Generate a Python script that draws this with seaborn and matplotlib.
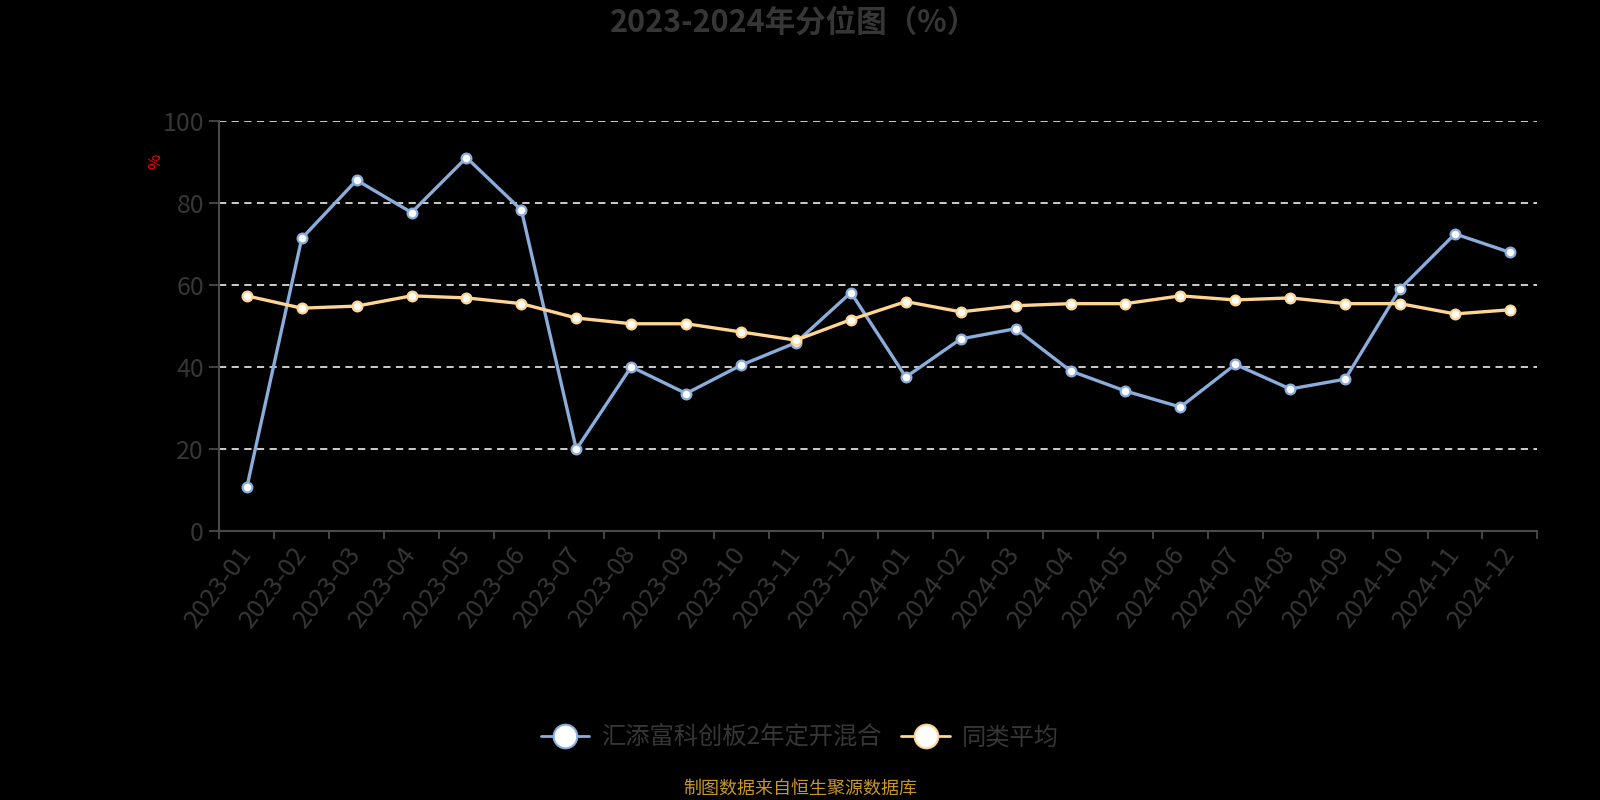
import seaborn as sns
import matplotlib.pyplot as plt
import pandas as pd
import numpy as np
from matplotlib.lines import Line2D

# data
months = ['2023-01', '2023-02', '2023-03', '2023-04', '2023-05', '2023-06',
          '2023-07', '2023-08', '2023-09', '2023-10', '2023-11', '2023-12',
          '2024-01', '2024-02', '2024-03', '2024-04', '2024-05', '2024-06',
          '2024-07', '2024-08', '2024-09', '2024-10', '2024-11', '2024-12']
fund_pct = [10.6, 71.3, 85.5, 77.6, 91.0, 78.2, 19.9, 40.0, 33.5, 40.4, 45.9, 58.1,
            37.5, 46.8, 49.3, 39.0, 34.1, 30.2, 40.6, 34.6, 37.0, 59.0, 72.4, 67.9]
peer_avg = [57.3, 54.3, 54.8, 57.3, 56.8, 55.4, 51.9, 50.5, 50.5, 48.5, 46.5, 51.5,
            55.9, 53.4, 54.9, 55.4, 55.4, 57.3, 56.3, 56.8, 55.4, 55.4, 52.9, 53.9]
fund_name = '汇添富科创板2年定开混合'
peer_name = '同类平均'

df = pd.DataFrame({'月份': months, fund_name: fund_pct, peer_name: peer_avg})

sns.set_theme(style='dark')
plt.rcParams['font.family'] = ['Noto Sans CJK SC', 'DejaVu Sans']

grey = '#363636'
axis_grey = '#4a4a4a'
colors = {fund_name: '#8AADDC', peer_name: '#FFD592'}

fig = plt.figure(figsize=(16, 8), dpi=100, facecolor='black')
ax = fig.add_axes([0.1371, 0.3363, 0.82375, 0.5129])
ax.set_facecolor('black')

for name in [fund_name, peer_name]:
    c = colors[name]
    sns.lineplot(data=df, x='月份', y=name, color=c, linewidth=2.4,
                 marker='o', markersize=7, markerfacecolor='white',
                 markeredgecolor=c, markeredgewidth=1.6, ax=ax, zorder=3)

# axes
ax.set_xlim(-0.5, len(months) - 0.5)
ax.set_ylim(0, 100)
ax.set_yticks(range(0, 101, 20))
ax.set_xticks(range(len(months)))
ax.set_xticklabels(months, rotation=53, ha='right', va='center', rotation_mode='anchor')
ax.set_xticks(np.arange(-0.5, len(months), 1), minor=True)
ax.tick_params(axis='x', which='major', length=0, pad=13, labelsize=18.5, labelcolor=grey)
ax.tick_params(axis='x', which='minor', length=6, width=1.3, color=axis_grey, bottom=True)
ax.tick_params(axis='y', length=7, width=1.3, color=axis_grey, left=True,
               labelsize=18, labelcolor=grey, pad=4)
ax.set_xlabel('')
ax.set_ylabel('')
ax.grid(axis='y', color='#dddddd', linestyle=(0, (4, 3)), linewidth=1.3)
ax.grid(axis='x', visible=False)
for s in ['top', 'right']:
    ax.spines[s].set_visible(False)
for s in ['left', 'bottom']:
    ax.spines[s].set_visible(True)
    ax.spines[s].set_color(axis_grey)
    ax.spines[s].set_linewidth(1.5)

# texts
fig.text(0.496, 1 - 23 / 800, '2023-2024年分位图（%）', ha='center', va='center',
         fontsize=22, fontweight='bold', color=grey)
fig.text(156 / 1600, 1 - 161 / 800, '%', rotation=90, ha='center', va='center',
         color='red', fontsize=12)

handles = [Line2D([], [], color=colors[n], lw=2, marker='o', markersize=17,
                  markerfacecolor='white', markeredgecolor=colors[n], markeredgewidth=1.5)
           for n in [fund_name, peer_name]]
fig.legend(handles, [fund_name, peer_name], loc='center', ncol=2,
           bbox_to_anchor=(0.5, 1 - 738 / 800), frameon=False, fontsize=17.5,
           labelcolor=grey, handlelength=2.0, columnspacing=0.8, handletextpad=0.5)

fig.text(0.5, 1 - 789 / 800, '制图数据来自恒生聚源数据库', ha='center', va='center',
         color='#C8962A', fontsize=13)

fig.savefig('out.png', dpi=100, facecolor='black')
